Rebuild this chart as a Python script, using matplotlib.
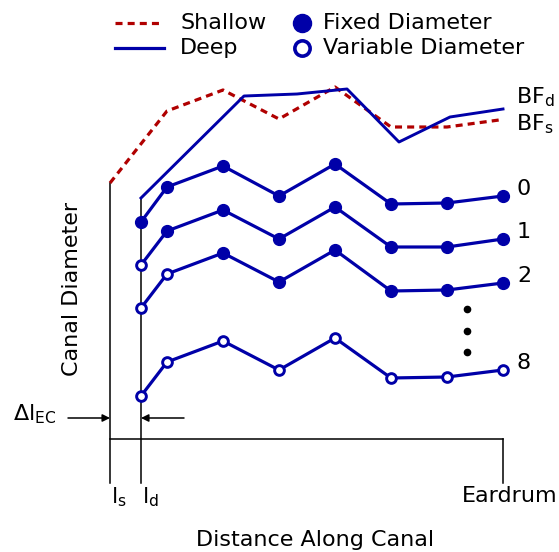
import matplotlib
matplotlib.use("Agg")
import matplotlib.pyplot as plt

plt.rcParams['font.family'] = ['DejaVu Sans']
plt.rcParams['mathtext.default'] = 'regular'

# Positions along the canal (schematic units)
x_nodes = [141, 167, 223, 279, 335, 391, 447, 503]
x_shallow = [110, 167, 223, 279, 335, 391, 447, 499]
x_deep = [141, 244, 297, 347, 399, 450, 503]

# Best-fit shallow / deep canal profiles
bf_shallow = [369, 441, 462, 433, 465, 425, 425, 432]
bf_deep = [354, 456, 458, 463, 410, 435, 443]

# Canal diameter profiles, numbered by count of variable-diameter sections
series_labels = ['0', '1', '2', '8']
series_values = [
    [330, 365, 386, 356, 388, 348, 349, 356],
    [287, 321, 342, 313, 345, 305, 305, 313],
    [244, 278, 299, 270, 302, 261, 262, 269],
    [156, 190, 211, 182, 214, 174, 175, 182],
]
n_variable = [0, 1, 2, 8]

BLUE = '#0000a8'
RED = '#b00000'
FS = 16

fig = plt.figure(figsize=(5.59, 5.52), dpi=100)
ax = fig.add_axes([0, 0, 1, 1])
ax.set_xlim(0, 559)
ax.set_ylim(0, 552)
ax.axis('off')

# Reference frame: canal entrances, baseline and eardrum
ls_x, ld_x, ear_x = x_shallow[0], x_deep[0], x_nodes[-1]
base_y, foot_y = 113, 69
ax.plot([ls_x, ls_x], [foot_y, bf_shallow[0]], color='black', lw=1.1)
ax.plot([ld_x, ld_x], [foot_y, bf_deep[0]], color='black', lw=1.1)
ax.plot([ls_x, ear_x], [base_y, base_y], color='black', lw=1.1)
ax.plot([ear_x, ear_x], [foot_y, base_y], color='black', lw=1.1)

# Best-fit profiles
ax.plot(x_shallow, bf_shallow, color=RED, lw=2.3, ls=(0, (2.2, 1.6)))
ax.plot(x_deep, bf_deep, color=BLUE, lw=2.1)

# Diameter profiles with fixed (filled) / variable (open) markers
for vals, nv, lab in zip(series_values, n_variable, series_labels):
    ax.plot(x_nodes, vals, color=BLUE, lw=2.3, zorder=3)
    xs_v, ys_v = x_nodes[:nv], vals[:nv]
    xs_f, ys_f = x_nodes[nv:], vals[nv:]
    ax.plot(xs_f, ys_f, ls='none', marker='o', ms=8.5, color=BLUE, zorder=4)
    ax.plot(xs_v, ys_v, ls='none', marker='o', ms=7, mfc='white',
            mec=BLUE, mew=2.1, zorder=4)
    ax.text(517, vals[-1] + 7, lab, fontsize=FS, va='center', ha='left')

# Ellipsis between profile 2 and 8
ax.plot([467, 467, 467], [243, 221, 200], ls='none', marker='o', ms=4.5,
        color='black')

# Best-fit labels
ax.text(516, 455, r'$BF_d$', fontsize=FS, va='center', ha='left')
ax.text(516, 428, r'$BF_s$', fontsize=FS, va='center', ha='left')

# Entrance offset arrows
arrow = dict(arrowstyle='-|>', color='black', lw=1.1, mutation_scale=11,
             shrinkA=0, shrinkB=0)
ax.annotate('', xy=(ls_x, 134), xytext=(68, 134), arrowprops=arrow)
ax.annotate('', xy=(ld_x, 134), xytext=(184, 134), arrowprops=arrow)
ax.text(13, 138, r'$\Delta l_{EC}$', fontsize=FS, va='center', ha='left')

# Axis labels
ax.text(ls_x + 1, 55, r'$l_s$', fontsize=FS, va='center', ha='left')
ax.text(ld_x + 1, 55, r'$l_d$', fontsize=FS, va='center', ha='left')
ax.text(558, 56, 'Eardrum', fontsize=FS, va='center', ha='right')
ax.text(315, 12, 'Distance Along Canal', fontsize=FS, va='center',
        ha='center')
ax.text(72, 263, 'Canal Diameter', fontsize=FS, va='center', ha='center',
        rotation=90)

# Legend
ax.plot([115, 163], [529, 529], color=RED, lw=2.3, ls=(0, (2.2, 1.6)))
ax.plot([115, 164], [504, 504], color=BLUE, lw=2.3)
ax.text(180, 529, 'Shallow', fontsize=FS, va='center', ha='left')
ax.text(180, 504, 'Deep', fontsize=FS, va='center', ha='left')
ax.plot([302], [529], ls='none', marker='o', ms=13, color=BLUE)
ax.plot([302], [504], ls='none', marker='o', ms=11, mfc='white',
        mec=BLUE, mew=2.6)
ax.text(323, 529, 'Fixed Diameter', fontsize=FS, va='center', ha='left')
ax.text(323, 504, 'Variable Diameter', fontsize=FS, va='center', ha='left')

fig.savefig('out.png', dpi=100)
